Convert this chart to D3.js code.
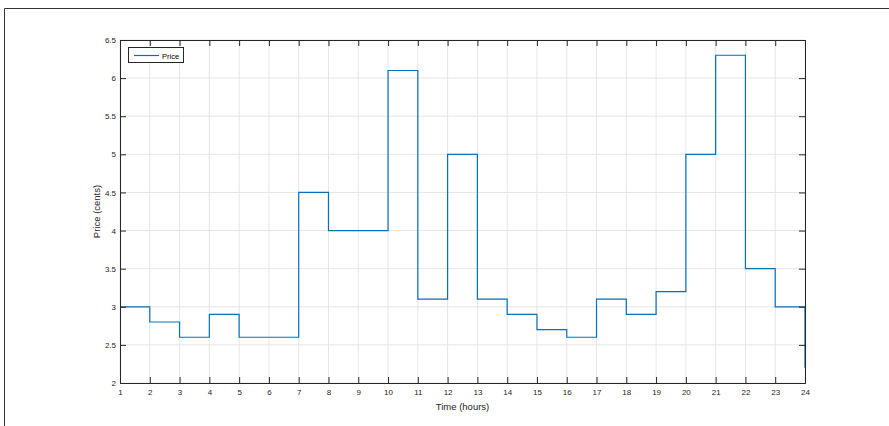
<!DOCTYPE html>
<html><head><meta charset="utf-8">
<script src="https://cdn.jsdelivr.net/npm/d3@7"></script>
<style>body{margin:0;background:#fff}svg{display:block}text{font-family:"Liberation Sans",Arial,Helvetica,sans-serif}</style>
</head><body><svg id="c" width="889" height="426"></svg>
<script>
const hours = [1,2,3,4,5,6,7,8,9,10,11,12,13,14,15,16,17,18,19,20,21,22,23,24];
const price = [3.0,2.8,2.6,2.9,2.6,2.6,4.5,4.0,4.0,6.1,3.1,5.0,3.1,2.9,2.7,2.6,3.1,2.9,3.2,5.0,6.3,3.5,3.0,2.2];
const xTicks = hours;
const yTicks = [2,2.5,3,3.5,4,4.5,5,5.5,6,6.5];
const seriesName = "Price";

const svg = d3.select("#c");
const L=120,R=805,T=40,B=383;
const x = d3.scaleLinear().domain([1,24]).range([L,R]);
const y = d3.scaleLinear().domain([2,6.5]).range([B,T]);
const axisCol="#262626", gridCol="#e6e6e6", lineCol="#0072BD";

// figure border (partial)
svg.append("path").attr("d","M4.5,426V8.5H889").attr("fill","none").attr("stroke","#333").attr("stroke-width",1);

// grid
const g = svg.append("g");
g.selectAll(".gx").data(xTicks).join("line").attr("x1",d=>x(d)).attr("x2",d=>x(d)).attr("y1",T).attr("y2",B).attr("stroke",gridCol).attr("stroke-width",1);
g.selectAll(".gy").data(yTicks).join("line").attr("y1",d=>y(d)).attr("y2",d=>y(d)).attr("x1",L).attr("x2",R).attr("stroke",gridCol).attr("stroke-width",1);

// stairs
const line = d3.line().x(d=>x(d[0])).y(d=>y(d[1])).curve(d3.curveStepAfter);
svg.append("path").datum(hours.map((h,i)=>[h,price[i]])).attr("d",line).attr("fill","none").attr("stroke",lineCol).attr("stroke-width",1.2);

// axes
const tl=6;
const ax = svg.append("g").attr("transform",`translate(0,${B})`).call(d3.axisBottom(x).tickValues(xTicks).tickSize(-tl).tickPadding(10).tickFormat(d3.format("d")));
const ay = svg.append("g").attr("transform",`translate(${L},0)`).call(d3.axisLeft(y).tickValues(yTicks).tickSize(-tl).tickPadding(4).tickFormat(d=>String(d)));
const axt = svg.append("g").attr("transform",`translate(0,${T})`).call(d3.axisTop(x).tickValues(xTicks).tickSize(-tl).tickFormat(""));
const ayr = svg.append("g").attr("transform",`translate(${R},0)`).call(d3.axisRight(y).tickValues(yTicks).tickSize(-tl).tickFormat(""));
[ax,ay,axt,ayr].forEach(a=>{a.select(".domain").attr("stroke",axisCol).attr("stroke-width",1);a.selectAll(".tick line").attr("stroke",axisCol);a.selectAll("text").attr("fill",axisCol).style("font-size","8px").style("font-family",null);});
ax.selectAll("text").attr("dy","0.3em");

// labels
svg.append("text").attr("x",(L+R)/2).attr("y",410).attr("text-anchor","middle").attr("fill",axisCol).style("font-size","9.5px").text("Time (hours)");
svg.append("text").attr("transform",`translate(100,${(T+B)/2}) rotate(-90)`).attr("text-anchor","middle").attr("fill",axisCol).style("font-size","9.5px").text("Price (cents)");

// legend
svg.append("rect").attr("x",128.5).attr("y",47.5).attr("width",55).attr("height",15).attr("fill","#fff").attr("stroke",axisCol).attr("stroke-width",1);
svg.append("line").attr("x1",134).attr("x2",159).attr("y1",55.5).attr("y2",55.5).attr("stroke",lineCol).attr("stroke-width",1.2);
svg.append("text").attr("x",162).attr("y",58.5).attr("fill","#000").style("font-size","7.5px").text(seriesName);
</script></body></html>
